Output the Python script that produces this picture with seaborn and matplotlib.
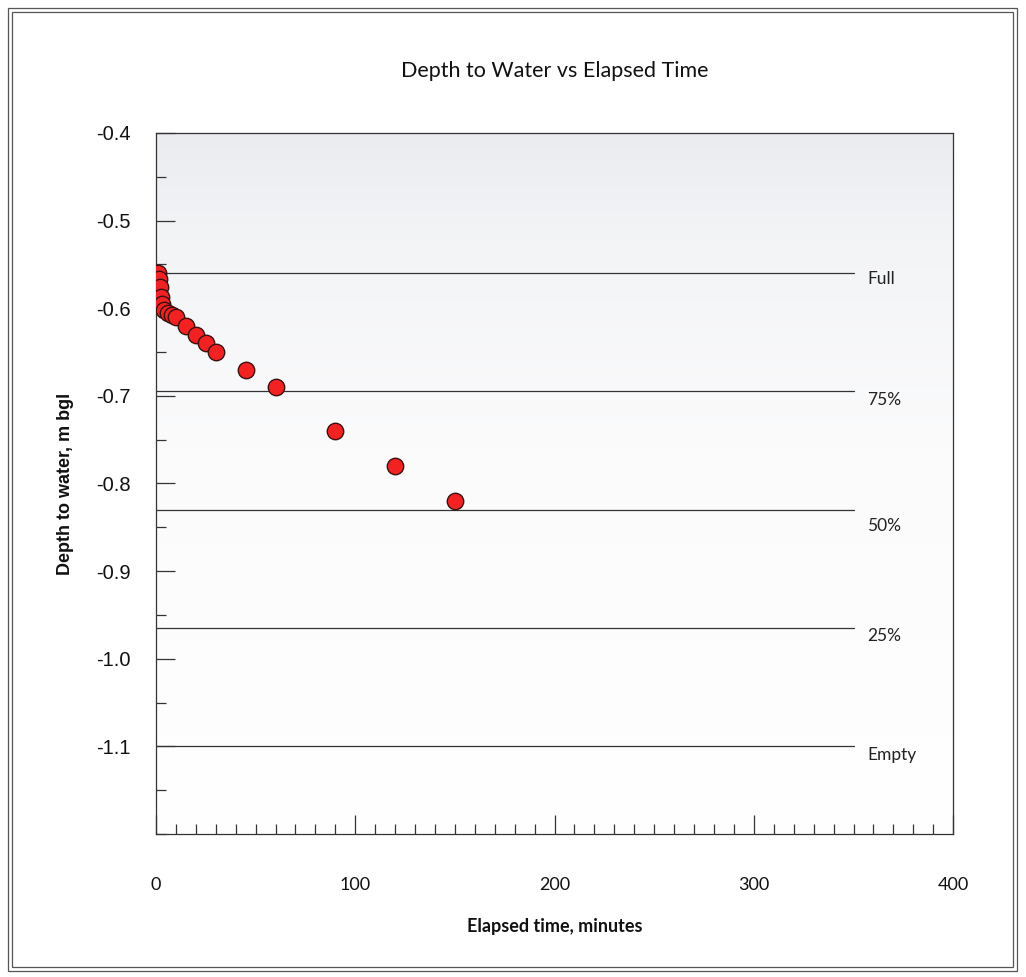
import numpy as np
import pandas as pd
import matplotlib
matplotlib.use("Agg")
import matplotlib.pyplot as plt
import seaborn as sns
from matplotlib.patches import Rectangle
from matplotlib.ticker import MultipleLocator
from matplotlib.colors import LinearSegmentedColormap

# ---- data ----
elapsed_min = [1, 1.5, 2, 2.5, 3, 4, 6, 8, 10, 15, 20, 25, 30, 45, 60, 90, 120, 150]
depth_m = [-0.56, -0.567, -0.576, -0.587, -0.595, -0.602, -0.606, -0.608, -0.61,
           -0.62, -0.63, -0.64, -0.65, -0.67, -0.69, -0.74, -0.78, -0.82]
level_names = ["Full", "75%", "50%", "25%", "Empty"]
level_values = [-0.56, -0.695, -0.83, -0.965, -1.10]
level_extent = 350
x_ticks = [0, 100, 200, 300, 400]
y_ticks = [-0.4, -0.5, -0.6, -0.7, -0.8, -0.9, -1.0, -1.1]
y_ticklabels = ["-0.4", "-0.5", "-0.6", "-0.7", "-0.8", "-0.9", "-1.0", "-1.1"]

df = pd.DataFrame({"t": elapsed_min, "d": depth_m})

sns.set_theme(style="white")
plt.rcParams["font.family"] = ["Lato", "DejaVu Sans"]

fig = plt.figure(figsize=(10.26, 9.77), dpi=100)
ax = fig.add_axes([0.152, 0.1464, 0.777, 0.7175])

# background gradient (light grey at top fading to white)
grad = np.linspace(0, 1, 256).reshape(-1, 1)
cmap = LinearSegmentedColormap.from_list(
    "bg", [(0.0, "#ffffff"), (0.55, "#fbfbfc"), (0.85, "#f3f4f6"), (1.0, "#eaecf0")])
ax.imshow(grad, extent=[0, 400, -1.2, -0.4], aspect="auto", cmap=cmap,
          origin="lower", zorder=0)

for name, val in zip(level_names, level_values):
    ax.plot([0, level_extent], [val, val], color="#333333", lw=0.9, zorder=1)

offsets = [-4, -6, -12, -6, -6]
for name, val, off in zip(level_names, level_values, offsets):
    ax.annotate(name, xy=(357, val), xytext=(0, off), textcoords="offset points",
                ha="left", va="center", fontsize=12.5, color="#222222")

sns.scatterplot(data=df, x="t", y="d", ax=ax, s=140, color="#f22222",
                edgecolor="#3a1010", linewidth=1.0, zorder=3, legend=False)

ax.set_xlim(0, 400)
ax.set_ylim(-1.2, -0.4)
ax.set_xticks(x_ticks)
ax.set_yticks(y_ticks)
ax.xaxis.set_minor_locator(MultipleLocator(10))
ax.yaxis.set_minor_locator(MultipleLocator(0.05))
ax.tick_params(axis="both", which="major", direction="in", length=14, width=0.9,
               color="#333333", labelsize=13, labelcolor="#111111")
ax.tick_params(axis="both", which="minor", direction="in", length=7, width=0.9,
               color="#333333")
ax.tick_params(axis="y", which="both", right=False, left=True, pad=18)
ax.tick_params(axis="y", which="major", labelsize=14.5)
ax.tick_params(axis="x", which="both", top=False, bottom=True, pad=31)
ax.set_yticklabels(y_ticklabels, family=["Liberation Sans"], fontsize=14.5)
for sp in ax.spines.values():
    sp.set_color("#333333")
    sp.set_linewidth(0.9)

ax.set_xlabel("Elapsed time, minutes", fontsize=13, fontweight="bold", labelpad=18,
              color="#111111")
ax.set_ylabel("Depth to water, m bgl", fontsize=13, fontweight="bold", labelpad=16,
              color="#111111", family=["Liberation Sans"])
ax.set_title("Depth to Water vs Elapsed Time", fontsize=15.5, pad=40, color="#111111")

# double frame around figure
fig.patches.append(Rectangle((8 / 1026, 6 / 977), 1 - 17 / 1026, 1 - 14 / 977,
                             transform=fig.transFigure, fill=False, ec="#555555", lw=0.9))
fig.patches.append(Rectangle((12 / 1026, 10 / 977), 1 - 25 / 1026, 1 - 22 / 977,
                             transform=fig.transFigure, fill=False, ec="#555555", lw=0.9))

fig.savefig("out.png", dpi=100)
